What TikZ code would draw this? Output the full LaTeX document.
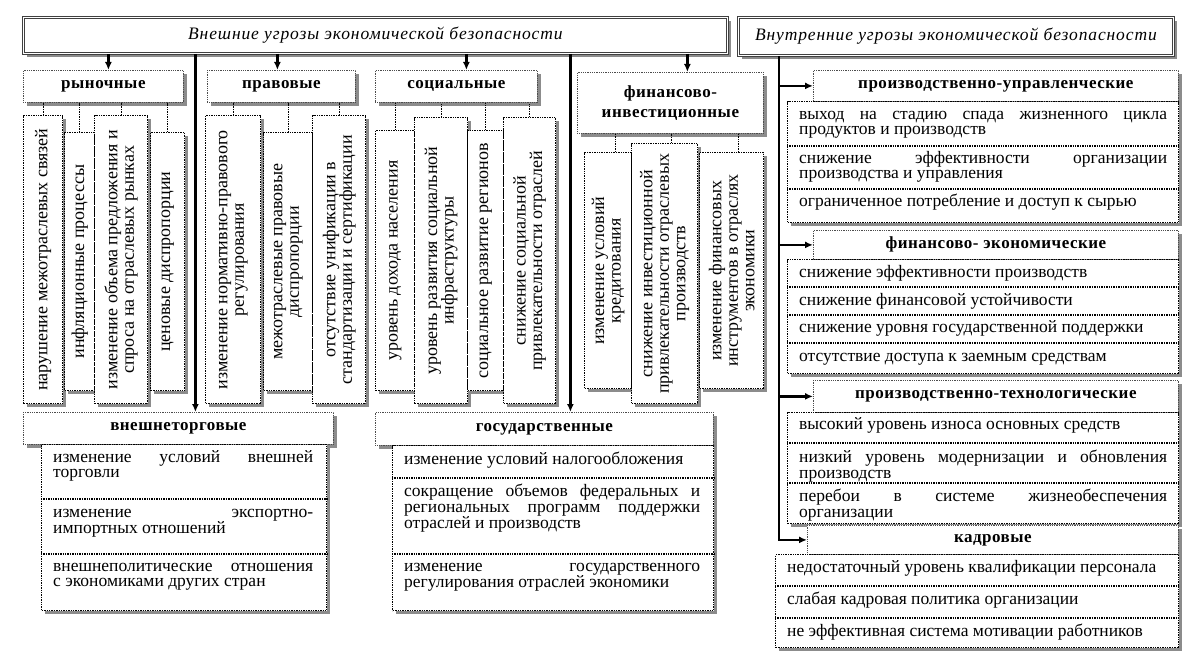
\documentclass[tikz,border=0pt]{standalone}
\usepackage{fontspec}
\setmainfont{Liberation Serif}
\newfontfamily\spacedserif[LetterSpace=3]{Liberation Serif}
\newfontfamily\titleserif[LetterSpace=5]{Liberation Serif}
\usetikzlibrary{shadows,arrows.meta}

\tikzset{
  boxshadow/.style={drop shadow={shadow xshift=3.5pt,shadow yshift=-3.5pt,fill=black!45,opacity=1}},
  titlebox/.style={draw=black!75,double,double distance=1.6pt,line width=0.8pt,fill=white,boxshadow,
    anchor=north west,inner sep=0pt,font=\titleserif\itshape\fontsize{17.5}{18}\selectfont},
  headbox/.style={draw=black!70,densely dotted,line width=0.8pt,fill=white,boxshadow,
    anchor=north west,inner sep=0pt,align=center,font=\spacedserif\bfseries\fontsize{17}{20}\selectfont},
  itembox/.style={draw,densely dotted,line width=1.4pt,fill=white,boxshadow,anchor=north west,inner sep=0pt},
  vtext/.style={rotate=90,align=center,inner sep=0pt,font=\fontsize{18}{16.5}\selectfont},
  celltext/.style={anchor=north west,align=justify,inner sep=0pt,font=\fontsize{17.5}{15.5}\selectfont,
    execute at begin node={\rule{0pt}{12pt}}},
  divline/.style={densely dotted,line width=1.4pt},
  tie/.style={densely dotted,line width=1.4pt},
  branch/.style={line width=2.4pt,-{Latex[length=8pt,width=7pt]}},
}

\begin{document}
\begin{tikzpicture}[x=1pt,y=-1pt]
  \useasboundingbox (0,0) rectangle (1195,655);

  % headers
  \node[titlebox,minimum width=704pt,minimum height=36pt] (ext) at (23,17) {Внешние угрозы экономической безопасности};
  \node[titlebox,minimum width=435pt,minimum height=38pt] (int) at (738,17) {Внутренние угрозы экономической безопасности};

  % external: groups with vertical items
  \node[headbox,minimum width=160pt,minimum height=32pt] (rynok) at (23,70) {рыночные};
  \node[headbox,minimum width=148pt,minimum height=32pt] (pravo) at (207,70) {правовые};
  \node[headbox,minimum width=162pt,minimum height=32pt] (socium) at (375,70) {социальные};
  \node[headbox,minimum width=186pt,minimum height=61pt] (finvest) at (577,72) {финансово-\\инвестиционные};

  \node[itembox,minimum width=39pt,minimum height=288pt] (r1) at (23,115) {};
  \node[vtext] (r1t) at (r1.center) {нарушение межотраслевых связей};
  \node[itembox,minimum width=30pt,minimum height=258pt] (r2) at (64,132) {};
  \node[vtext] (r2t) at (r2.center) {инфляционные процессы};
  \node[itembox,minimum width=53pt,minimum height=288pt] (r3) at (94,115) {};
  \node[vtext] (r3t) at (r3.center) {изменение объема предложения и\\спроса на отраслевых рынках};
  \node[itembox,minimum width=34pt,minimum height=258pt] (r4) at (150,132) {};
  \node[vtext] (r4t) at (r4.center) {ценовые диспропорции};

  \node[itembox,minimum width=55pt,minimum height=288pt] (p1) at (205,115) {};
  \node[vtext] (p1t) at (p1.center) {изменение нормативно-правового\\регулирования};
  \node[itembox,minimum width=49pt,minimum height=258pt] (p2) at (263,132) {};
  \node[vtext] (p2t) at (p2.center) {межотраслевые правовые\\диспропорции};
  \node[itembox,minimum width=53pt,minimum height=288pt] (p3) at (312,115) {};
  \node[vtext] (p3t) at (p3.center) {отсутствие унификации в\\стандартизации и сертификации};

  \node[itembox,minimum width=39pt,minimum height=260pt] (s1) at (375,130) {};
  \node[vtext] (s1t) at (s1.center) {уровень дохода населения};
  \node[itembox,minimum width=53pt,minimum height=286pt] (s2) at (414,117) {};
  \node[vtext] (s2t) at (s2.center) {уровень развития социальной\\инфраструктуры};
  \node[itembox,minimum width=36pt,minimum height=260pt] (s3) at (467,130) {};
  \node[vtext] (s3t) at (s3.center) {социальное развитие регионов};
  \node[itembox,minimum width=52pt,minimum height=286pt] (s4) at (503,117) {};
  \node[vtext] (s4t) at (s4.center) {снижение социальной\\привлекательности отраслей};

  \node[itembox,minimum width=47pt,minimum height=236pt] (f1) at (584,152) {};
  \node[vtext] (f1t) at (f1.center) {изменение условий\\кредитования};
  \node[itembox,minimum width=66pt,minimum height=260pt] (f2) at (631,143) {};
  \node[vtext] (f2t) at (f2.center) {снижение инвестиционной\\привлекательности отраслевых\\производств};
  \node[itembox,minimum width=64pt,minimum height=236pt] (f3) at (699,152) {};
  \node[vtext] (f3t) at (f3.center) {изменение финансовых\\инструментов в отраслях\\экономики};

  % external: groups with listed items
  \node[headbox,minimum width=310pt,minimum height=32pt] (vt) at (23,412) {внешнеторговые};
  \node[itembox,minimum width=285pt,minimum height=166pt] (vtlist) at (41,444) {};
  \draw[divline] (vtlist.west |- 0,499) -- (vtlist.east |- 0,499);
  \draw[divline] (vtlist.west |- 0,554) -- (vtlist.east |- 0,554);
  \node[celltext,text width=260pt] (vt1) at (53,450) {изменение условий внешней\linebreak торговли};
  \node[celltext,text width=260pt] (vt2) at (53,505) {изменение экспортно-\linebreak импортных отношений};
  \node[celltext,text width=260pt] (vt3) at (53,559) {внешнеполитические отношения\linebreak с экономиками других стран};

  \node[headbox,minimum width=338pt,minimum height=33pt] (gos) at (375,412) {государственные};
  \node[itembox,minimum width=321pt,minimum height=165pt] (goslist) at (392,445) {};
  \draw[divline] (goslist.west |- 0,478) -- (goslist.east |- 0,478);
  \draw[divline] (goslist.west |- 0,554) -- (goslist.east |- 0,554);
  \node[celltext,text width=296pt] (gos1) at (404,452) {изменение условий налогообложения};
  \node[celltext,text width=296pt] (gos2) at (404,484) {сокращение объемов федеральных и\linebreak региональных программ поддержки\linebreak отраслей и производств};
  \node[celltext,text width=296pt] (gos3) at (404,559) {изменение государственного\linebreak регулирования отраслей экономики};

  % internal groups
  \node[headbox,minimum width=365pt,minimum height=31pt] (prodman) at (813,70) {производственно-управленческие};
  \node[itembox,minimum width=391pt,minimum height=121pt] (pmlist) at (787,101) {};
  \draw[divline] (pmlist.west |- 0,146) -- (pmlist.east |- 0,146);
  \draw[divline] (pmlist.west |- 0,189) -- (pmlist.east |- 0,189);
  \node[celltext,text width=368pt] (pm1) at (799,107) {выход на стадию спада жизненного цикла\linebreak продуктов и производств};
  \node[celltext,text width=368pt] (pm2) at (799,151) {снижение эффективности организации\linebreak производства и управления};
  \node[celltext,text width=368pt] (pm3) at (799,194) {ограниченное потребление и доступ к сырью};

  \node[headbox,minimum width=365pt,minimum height=29pt] (fineco) at (813,230) {финансово- экономические};
  \node[itembox,minimum width=391pt,minimum height=114pt] (felist) at (787,259) {};
  \draw[divline] (felist.west |- 0,287) -- (felist.east |- 0,287);
  \draw[divline] (felist.west |- 0,315) -- (felist.east |- 0,315);
  \draw[divline] (felist.west |- 0,343) -- (felist.east |- 0,343);
  \node[celltext,text width=368pt] (fe1) at (799,265) {снижение эффективности производств};
  \node[celltext,text width=368pt] (fe2) at (799,293) {снижение финансовой устойчивости};
  \node[celltext,text width=368pt] (fe3) at (799,320) {снижение уровня государственной поддержки};
  \node[celltext,text width=368pt] (fe4) at (799,349) {отсутствие доступа к заемным средствам};

  \node[headbox,minimum width=365pt,minimum height=32pt] (prodtech) at (813,380) {производственно-технологические};
  \node[itembox,minimum width=391pt,minimum height=111pt] (ptlist) at (787,412) {};
  \draw[divline] (ptlist.west |- 0,443) -- (ptlist.east |- 0,443);
  \draw[divline] (ptlist.west |- 0,483) -- (ptlist.east |- 0,483);
  \node[celltext,text width=368pt] (pt1) at (799,417) {высокий уровень износа основных средств};
  \node[celltext,text width=368pt] (pt2) at (799,450) {низкий уровень модернизации и обновления\linebreak производств};
  \node[celltext,text width=368pt] (pt3) at (799,489) {перебои в системе жизнеобеспечения\linebreak организации};

  \node[headbox,minimum width=371pt,minimum height=29pt] (kadr) at (807,525) {кадровые};
  \node[itembox,minimum width=403pt,minimum height=93pt] (kdlist) at (775,554) {};
  \draw[divline] (kdlist.west |- 0,586) -- (kdlist.east |- 0,586);
  \draw[divline] (kdlist.west |- 0,618) -- (kdlist.east |- 0,618);
  \node[celltext,text width=380pt] (kd1) at (787,560) {недостаточный уровень квалификации персонала};
  \node[celltext,text width=380pt] (kd2) at (787,592) {слабая кадровая политика организации};
  \node[celltext,text width=380pt] (kd3) at (787,624) {не эффективная система мотивации работников};

  % dotted ties from groups to items
  \foreach \it in {r1,r2,r3,r4} \draw[tie] (\it.north) -- (\it.north |- rynok.south);
  \foreach \it in {p1,p2,p3} \draw[tie] (\it.north) -- (\it.north |- pravo.south);
  \foreach \it in {s1,s2,s3,s4} \draw[tie] (\it.north) -- (\it.north |- socium.south);
  \foreach \it in {f1,f2,f3} \draw[tie] ([xshift=7pt]\it.north) -- ([xshift=7pt]\it.north |- finvest.south);

  % arrows from the external header
  \draw[branch] ([xshift=5pt]rynok.north |- ext.south) -- ([xshift=5pt]rynok.north);
  \draw[branch] ([xshift=-4pt]pravo.north |- ext.south) -- ([xshift=-4pt]pravo.north);
  \draw[branch] ([xshift=10pt]socium.north |- ext.south) -- ([xshift=10pt]socium.north);
  \draw[branch] ([xshift=17pt]finvest.north |- ext.south) -- ([xshift=17pt]finvest.north);
  \draw[branch] ([xshift=17pt]vt.north |- ext.south) -- ([xshift=17pt]vt.north);
  \draw[branch] ([xshift=26pt]gos.north |- ext.south) -- ([xshift=26pt]gos.north);

  % arrows from the internal header
  \coordinate (fork) at ([xshift=41pt]int.south west);
  \draw[branch] (fork) -- (fork |- kadr.west) -- (kadr.west);
  \draw[branch] (fork |- prodman.west) -- (prodman.west);
  \draw[branch] (fork |- fineco.west) -- (fineco.west);
  \draw[branch] (fork |- prodtech.west) -- (prodtech.west);
\end{tikzpicture}
\end{document}
